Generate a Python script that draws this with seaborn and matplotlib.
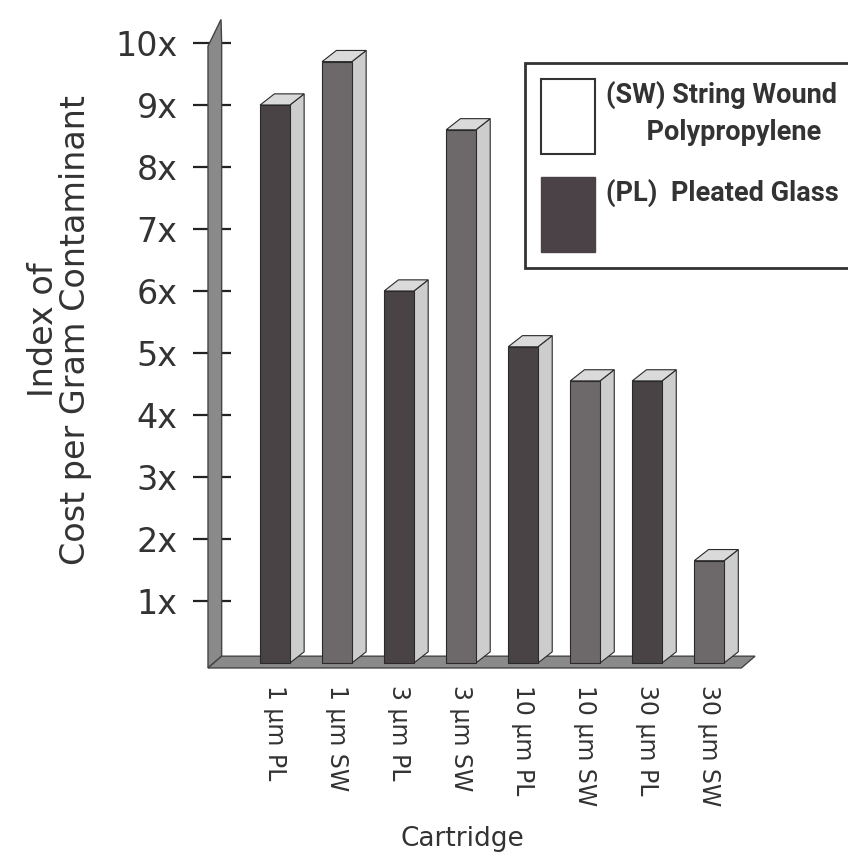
import matplotlib
matplotlib.use("Agg")
import matplotlib.pyplot as plt
import seaborn as sns
import pandas as pd
from matplotlib.patches import Polygon, Patch
from matplotlib.font_manager import FontProperties

# ---------------- data ----------------
cartridges = ["1 µm PL", "1 µm SW", "3 µm PL", "3 µm SW",
              "10 µm PL", "10 µm SW", "30 µm PL", "30 µm SW"]
cost_index = [9.0, 9.7, 6.0, 8.6, 5.1, 4.55, 4.55, 1.65]
media_type = ["PL", "SW", "PL", "SW", "PL", "SW", "PL", "SW"]
y_ticks = [1, 2, 3, 4, 5, 6, 7, 8, 9, 10]
y_tick_labels = ["1x", "2x", "3x", "4x", "5x", "6x", "7x", "8x", "9x", "10x"]
legend_labels = ["(SW) String Wound\n      Polypropylene", "(PL)  Pleated Glass\n"]
x_title = "Cartridge"
y_title = "Index of\nCost per Gram Contaminant"

# ---------------- style ----------------
sns.set_theme(style="white")
plt.rcParams["font.family"] = ["DejaVu Sans"]
text_col = "#333333"
pl_col = "#4a4246"
sw_col = "#6e686a"
side_col = "#cdcdcd"
top_col = "#dadada"
edge_col = "#2a2a2a"
wall_col = "#8a8a8a"

fig = plt.figure(figsize=(8.48, 8.56), dpi=100)
ax = fig.add_axes([208 / 848, 1 - 670 / 856, 552 / 848, 655 / 856])

df = pd.DataFrame({"Cartridge": cartridges, "Value": cost_index, "Type": media_type})
sns.barplot(data=df, x="Cartridge", y="Value", hue="Type", order=cartridges,
            dodge=False, palette={"PL": pl_col, "SW": sw_col}, width=0.48,
            edgecolor=edge_col, linewidth=0.8, legend=False, ax=ax, zorder=3)

ax.set_xlim(-1.08, 7.82)
ax.set_ylim(-0.113, 10.452)

# depth offsets of the pseudo-3D look (data units)
dx, dy = 0.23, 0.18

# back wall and floor
wall = Polygon([(-1.08, -0.08), (-1.08, 9.95), (-0.87, 10.38), (-0.86, 10.0),
                (-0.86, 0.11)], closed=True, facecolor=wall_col,
               edgecolor="#444444", linewidth=1.0, zorder=1, clip_on=False)
ax.add_patch(wall)
floor = Polygon([(-1.08, -0.08), (7.52, -0.08), (7.74, 0.11), (-0.86, 0.11)],
                closed=True, facecolor=wall_col, edgecolor="#444444",
                linewidth=1.0, zorder=1.2, clip_on=False)
ax.add_patch(floor)

# side and top faces for each bar
for p in list(ax.patches):
    if p in (wall, floor):
        continue
    x0 = p.get_x()
    w = p.get_width()
    h = p.get_height()
    x1 = x0 + w
    side = Polygon([(x1, 0), (x1, h), (x1 + dx, h + dy), (x1 + dx, dy)],
                   closed=True, facecolor=side_col, edgecolor=edge_col,
                   linewidth=0.8, zorder=2.9)
    top = Polygon([(x0, h), (x0 + dx, h + dy), (x1 + dx, h + dy), (x1, h)],
                  closed=True, facecolor=top_col, edgecolor=edge_col,
                  linewidth=0.8, zorder=2.9)
    ax.add_patch(side)
    ax.add_patch(top)

# axes styling
for s in ["top", "right", "bottom"]:
    ax.spines[s].set_visible(False)
ax.spines["left"].set_position(("data", -1.01))
ax.spines["left"].set_color("none")
ax.set_yticks(y_ticks)
ax.set_yticklabels(y_tick_labels, fontsize=24, color=text_col)
ax.tick_params(axis="y", direction="inout", length=27, width=1.6,
               colors="#222222", labelcolor=text_col, pad=11.5, left=True)
ax.tick_params(axis="x", length=0, pad=11)
for lab in ax.get_xticklabels():
    lab.set_rotation(-90)
    lab.set_fontsize(17)
    lab.set_color(text_col)
    lab.set_va("top")
    lab.set_ha("center")

ax.set_xlabel(x_title, fontsize=19, color=text_col)
ax.xaxis.set_label_coords((462 - 208) / 552, (670 - 826) / 655)
ax.xaxis.label.set_va("top")
ax.set_ylabel(y_title, fontsize=24, color=text_col, linespacing=0.95)
ax.yaxis.set_label_coords((92 - 208) / 552, (670 - 330) / 655)

# legend
handles = [Patch(facecolor="white", edgecolor="#333333", linewidth=1.5),
           Patch(facecolor=pl_col, edgecolor=pl_col, linewidth=1.0)]
prop = FontProperties(family=["Roboto", "DejaVu Sans"], weight="bold", size=19.5)
leg = ax.legend(handles, legend_labels, loc="upper left",
                bbox_to_anchor=(525 / 848, 1 - 63 / 856),
                bbox_transform=fig.transFigure, prop=prop, frameon=True,
                fancybox=False, framealpha=1, edgecolor="#333333",
                handlelength=2.0, handleheight=3.88, handletextpad=0.4,
                labelspacing=0.85, borderpad=0.6, borderaxespad=0)
leg.get_frame().set_linewidth(2)
for t in leg.get_texts():
    t.set_color(text_col)
    t.set_linespacing(1.45)

fig.savefig("out.png", dpi=100)
